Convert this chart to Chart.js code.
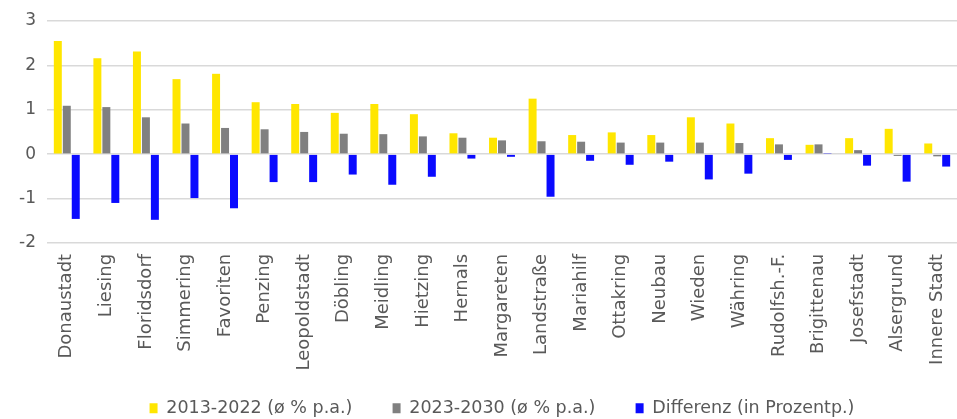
<!DOCTYPE html>
<html>
<head>
<meta charset="utf-8">
<script src="https://cdn.jsdelivr.net/npm/chart.js@4/dist/chart.umd.min.js"></script>
<style>
  html, body { margin: 0; padding: 0; background: #fff; }
  #wrap { width: 957px; height: 419px; }
</style>
</head>
<body>
<div id="wrap"><canvas id="myChart" width="957" height="419"></canvas></div>
<script>
// Bezirke
const bezirke = ["Donaustadt", "Liesing", "Floridsdorf", "Simmering", "Favoriten", "Penzing",
  "Leopoldstadt", "Döbling", "Meidling", "Hietzing", "Hernals", "Margareten", "Landstraße",
  "Mariahilf", "Ottakring", "Neubau", "Wieden", "Währing", "Rudolfsh.-F.", "Brigittenau",
  "Josefstadt", "Alsergrund", "Innere Stadt"];

// Werte
const wachstum2013 = [2.55, 2.16, 2.31, 1.69, 1.81, 1.17, 1.13, 0.93, 1.13, 0.90, 0.47, 0.37, 1.25,
  0.43, 0.49, 0.43, 0.83, 0.69, 0.36, 0.21, 0.36, 0.57, 0.24];
const wachstum2023 = [1.09, 1.06, 0.83, 0.69, 0.59, 0.56, 0.50, 0.46, 0.45, 0.40, 0.37, 0.31, 0.29,
  0.28, 0.26, 0.26, 0.26, 0.25, 0.22, 0.22, 0.09, -0.04, -0.05];
const differenz = [-1.46, -1.10, -1.48, -0.99, -1.22, -0.63, -0.63, -0.46, -0.69, -0.51, -0.10, -0.06, -0.96,
  -0.15, -0.24, -0.17, -0.57, -0.44, -0.13, 0.01, -0.26, -0.62, -0.28];

const serienNamen = ["2013-2022 (ø % p.a.)", "2023-2030 (ø % p.a.)", "Differenz (in Prozentp.)"];
const yTicks = [3, 2, 1, 0, -1, -2];

const textFarbe = "#595959";
const schrift = "DejaVu Sans";

const data = {
  labels: bezirke,
  datasets: [
    { label: serienNamen[0], data: wachstum2013, backgroundColor: "#FFE600" },
    { label: serienNamen[1], data: wachstum2023, backgroundColor: "#808080" },
    { label: serienNamen[2], data: differenz, backgroundColor: "#0A0AFF" },
  ],
};

// etwas mehr Abstand zwischen den Legendeneintraegen (nur horizontal)
const legendeAbstand = "    ";

const config = {
  type: "bar",
  data: data,
  options: {
    responsive: false,
    animation: false,
    layout: { padding: { top: 21, left: 11, right: 0, bottom: -8 } },
    datasets: {
      bar: { categoryPercentage: 0.68, barPercentage: 0.89 },
    },
    plugins: {
      tooltip: { enabled: false },
      legend: {
        position: "bottom",
        fullSize: false,
        labels: {
          color: textFarbe,
          font: { family: schrift, size: 17.5 },
          boxWidth: 8,
          boxHeight: 10,
          padding: 18,
          generateLabels: (chart) => {
            const items = Chart.defaults.plugins.legend.labels.generateLabels(chart);
            items.forEach((it, i) => { if (i < items.length - 1) it.text = it.text + legendeAbstand; });
            return items;
          },
        },
      },
    },
    scales: {
      x: {
        grid: { display: false, drawTicks: false },
        border: { display: false },
        afterFit: (s) => { s.paddingLeft = 0; s.paddingRight = 0; },
        ticks: {
          color: textFarbe,
          font: { family: schrift, size: 18 },
          minRotation: 90,
          maxRotation: 90,
          autoSkip: false,
          padding: 11,
        },
      },
      y: {
        min: -2,
        max: 3,
        afterBuildTicks: (axis) => { axis.ticks = yTicks.map((v) => ({ value: v })); },
        afterFit: (s) => { s.paddingTop = 0; s.paddingBottom = 0; s.width = 36; },
        grid: { color: "#D9D9D9", lineWidth: 1.5, drawTicks: false },
        border: { display: false },
        ticks: {
          color: textFarbe,
          font: { family: schrift, size: 17 },
          padding: 11,
        },
      },
    },
  },
};

let context = document.getElementById("myChart").getContext("2d");
let chart = new Chart(context, config);
</script>
</body>
</html>
